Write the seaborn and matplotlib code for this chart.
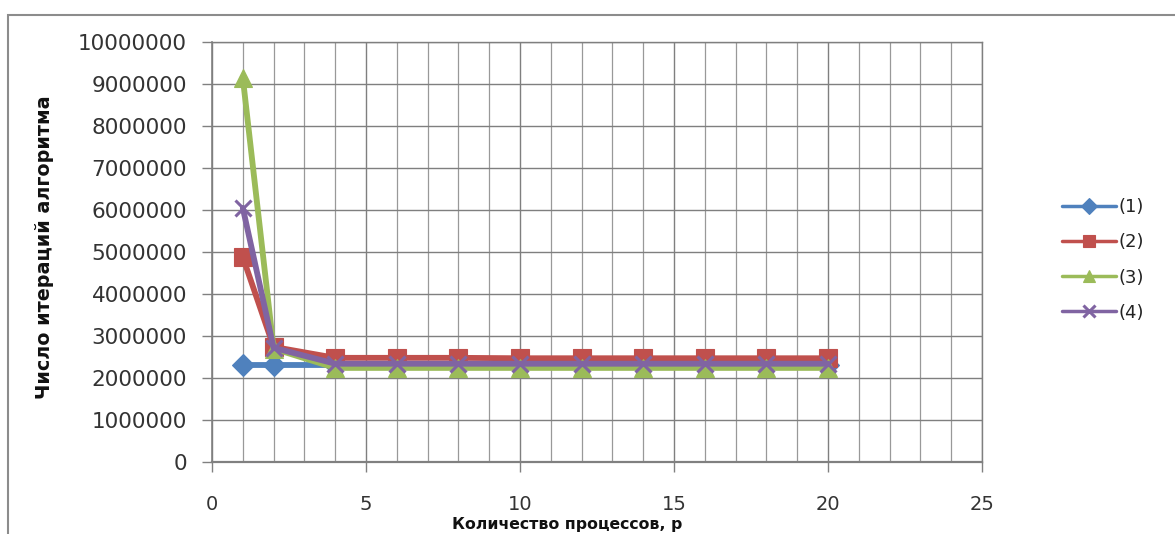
import numpy as np
import pandas as pd
import matplotlib
matplotlib.use("Agg")
import matplotlib.pyplot as plt
import seaborn as sns
from matplotlib.patches import Rectangle
from matplotlib.ticker import FuncFormatter, MultipleLocator

# ---- data ----
processes = [1, 2, 4, 6, 8, 10, 12, 14, 16, 18, 20]
series_names = ["(1)", "(2)", "(3)", "(4)"]
s1 = [2310000, 2310000, 2310000, 2310000, 2310000, 2310000, 2310000, 2310000, 2310000, 2310000, 2310000]
s2 = [4880000, 2740000, 2480000, 2480000, 2480000, 2470000, 2470000, 2470000, 2470000, 2470000, 2470000]
s3 = [9150000, 2700000, 2240000, 2240000, 2240000, 2240000, 2240000, 2240000, 2240000, 2240000, 2240000]
s4 = [6050000, 2720000, 2340000, 2340000, 2340000, 2340000, 2340000, 2340000, 2340000, 2340000, 2340000]
y_ticks = [0, 1000000, 2000000, 3000000, 4000000, 5000000, 6000000, 7000000, 8000000, 9000000, 10000000]
x_ticks = [0, 5, 10, 15, 20, 25]

colors = ["#4F81BD", "#C0504D", "#9BBB59", "#8064A2"]
markers = ["D", "s", "^", "x"]
msizes = [11, 13, 13, 12]

sns.set_style("white")
plt.rcParams["font.family"] = ["DejaVu Sans"]

W, H = 1175, 534
fig = plt.figure(figsize=(W / 100, H / 100), dpi=100)
ax = fig.add_axes([212 / W, 1 - 462 / H, (982 - 212) / W, (462 - 42) / H])

for name, vals, c, m, ms in zip(series_names, [s1, s2, s3, s4], colors, markers, msizes):
    df = pd.DataFrame({"p": processes, "v": vals})
    sns.lineplot(data=df, x="p", y="v", ax=ax, color=c, marker=m, markersize=ms,
                 markeredgecolor=c, markerfacecolor=c,
                 markeredgewidth=2.2 if m == "x" else 0.8,
                 linewidth=4.2, label=name, legend=True)

ax.set_xlim(0, 25)
ax.set_ylim(0, 10000000)
ax.set_xticks(x_ticks)
ax.xaxis.set_minor_locator(MultipleLocator(1))
ax.set_yticks(y_ticks)
ax.yaxis.set_major_formatter(FuncFormatter(lambda v, p: f"{int(v)}"))
ax.set_xlabel("")
ax.set_ylabel("")

ax.grid(which="major", axis="both", color="#7f7f7f", linewidth=1.0)
ax.grid(which="minor", axis="x", color="#999999", linewidth=0.9)
ax.set_axisbelow(True)
for sp in ["top", "right"]:
    ax.spines[sp].set_color("#7f7f7f")
    ax.spines[sp].set_linewidth(1.0)
ax.spines["left"].set_color("#808080")
ax.spines["left"].set_linewidth(1.2)
ax.spines["bottom"].set_color("#808080")
ax.spines["bottom"].set_linewidth(1.6)

ax.tick_params(axis="y", which="major", direction="out", length=7, width=1, color="#808080",
               labelsize=15.5, labelcolor="#333333", pad=11, left=True, right=False)
ax.tick_params(axis="x", which="major", direction="out", length=7, width=1, color="#808080",
               labelsize=14, labelcolor="#333333", pad=17, bottom=True, top=False)
ax.tick_params(axis="x", which="minor", length=0)

# legend
leg = ax.legend(loc="center left", bbox_to_anchor=(1046 / W, 1 - 260 / H),
                bbox_transform=fig.transFigure, frameon=False, fontsize=13,
                handlelength=3.0, handletextpad=0.1, labelspacing=0.95)
for h, ms in zip(leg.legend_handles, [8, 9, 9, 9]):
    h.set_linewidth(2.5)
    h.set_markersize(ms)
for t in leg.get_texts():
    t.set_color("#222222")

# axis titles
fig.text(45 / W, 1 - 247 / H, "Число итераций алгоритма", rotation=90, ha="center", va="center",
         fontsize=13.8, fontweight="bold", color="#111111")
fig.text(567 / W, 1 - 524 / H, "Количество процессов, р", ha="center", va="center",
         fontsize=11.3, fontweight="bold", color="#111111")

# chart border
fig.patches.append(Rectangle((8 / W, -0.1), 1.2, 1 - 15 / H + 0.1, transform=fig.transFigure,
                             fill=False, edgecolor="#8c8c8c", linewidth=1.5, figure=fig))

fig.savefig("out.png", dpi=100)
